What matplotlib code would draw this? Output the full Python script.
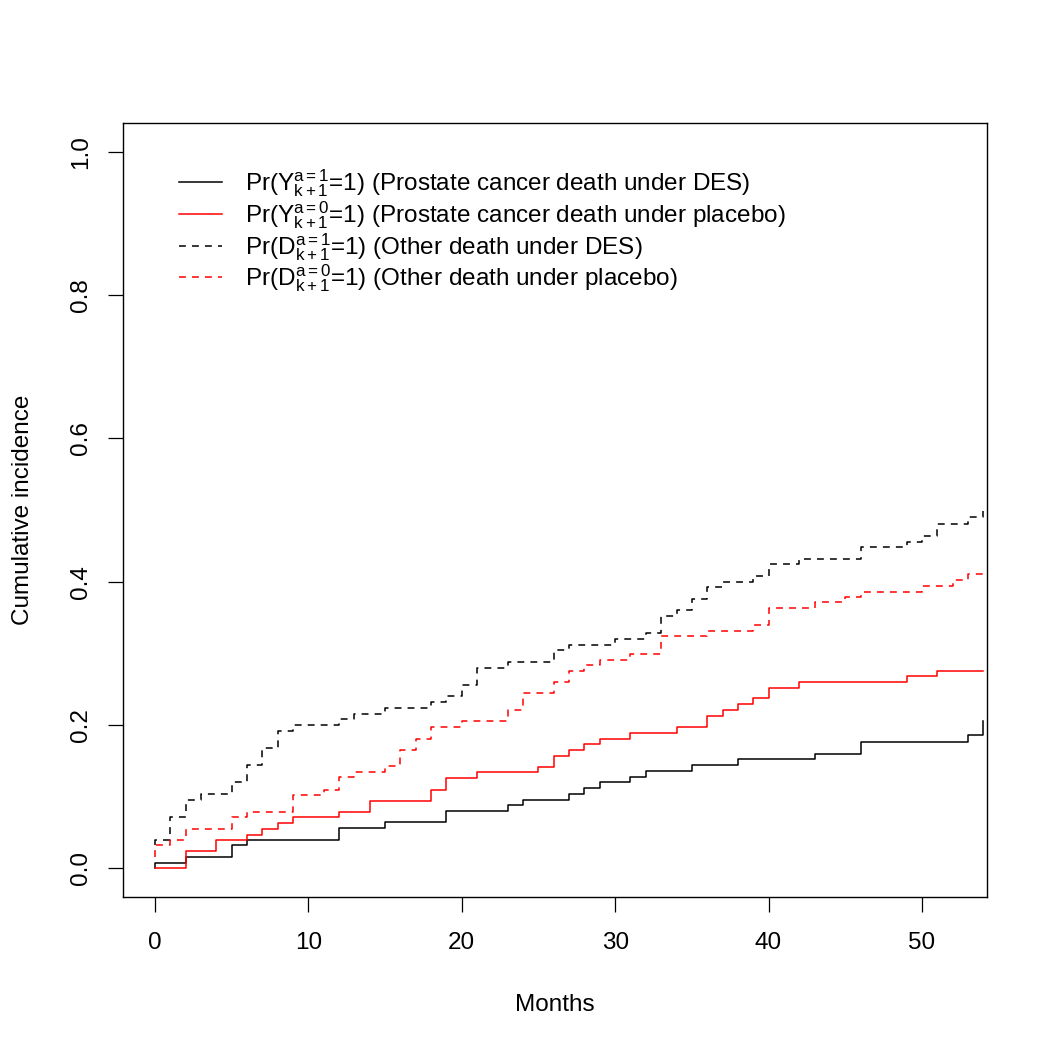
#!/usr/bin/env python3
"""
Cumulative incidence step curves: prostate cancer death vs other death,
DES vs placebo (R base-graphics look).
"""

import matplotlib
matplotlib.use("Agg")
import matplotlib.pyplot as plt

plt.rcParams["font.family"] = ["Liberation Sans", "DejaVu Sans"]
plt.rcParams["mathtext.fontset"] = "custom"
plt.rcParams["mathtext.rm"] = "Liberation Sans"
plt.rcParams["mathtext.it"] = "Liberation Sans"

# step data: month of each jump and the value after it
y_des_t = [0, 0, 2, 5, 6, 12, 15, 19, 23, 24, 27, 28, 29, 31, 32, 35, 38, 43, 46, 53, 54]
y_des_v = [0.0, 0.008, 0.016, 0.032, 0.040, 0.056, 0.064, 0.080, 0.088, 0.096, 0.104,
           0.112, 0.120, 0.128, 0.136, 0.144, 0.152, 0.160, 0.176, 0.186, 0.206]

y_plc_t = [0, 2, 4, 6, 7, 8, 9, 12, 14, 18, 19, 21, 25, 26, 27, 28, 29, 31, 34, 36,
           37, 38, 39, 40, 42, 49, 51, 54]
y_plc_v = [0.0, 0.024, 0.039, 0.047, 0.055, 0.063, 0.071, 0.079, 0.0945, 0.110, 0.126,
           0.134, 0.142, 0.157, 0.165, 0.173, 0.181, 0.189, 0.197, 0.213, 0.221, 0.229,
           0.237, 0.252, 0.260, 0.268, 0.276, 0.276]

d_des_t = [0, 0, 1, 2, 3, 5, 6, 7, 8, 9, 12, 13, 15, 18, 19, 20, 21, 23, 26, 27, 30,
           32, 33, 34, 35, 36, 37, 39, 40, 42, 46, 49, 50, 51, 53, 54]
d_des_v = [0.032, 0.039, 0.072, 0.096, 0.104, 0.121, 0.144, 0.168, 0.192, 0.200, 0.208,
           0.216, 0.224, 0.232, 0.240, 0.256, 0.280, 0.288, 0.304, 0.312, 0.320, 0.328,
           0.352, 0.360, 0.376, 0.392, 0.400, 0.408, 0.424, 0.432, 0.448, 0.456, 0.464,
           0.480, 0.490, 0.499]

d_plc_t = [0, 0, 1, 2, 5, 6, 9, 11, 12, 13, 15, 16, 17, 18, 20, 23, 24, 26, 27, 28,
           29, 31, 33, 36, 39, 40, 43, 45, 46, 50, 52, 53, 54]
d_plc_v = [0.016, 0.032, 0.039, 0.055, 0.071, 0.079, 0.103, 0.110, 0.127, 0.135, 0.143,
           0.165, 0.181, 0.197, 0.205, 0.221, 0.245, 0.260, 0.276, 0.284, 0.291, 0.299,
           0.324, 0.331, 0.339, 0.363, 0.371, 0.378, 0.386, 0.394, 0.402, 0.411, 0.417]

labels = [
    r"Pr($\mathregular{Y^{a=1}_{k+1}}$=1) (Prostate cancer death under DES)",
    r"Pr($\mathregular{Y^{a=0}_{k+1}}$=1) (Prostate cancer death under placebo)",
    r"Pr($\mathregular{D^{a=1}_{k+1}}$=1) (Other death under DES)",
    r"Pr($\mathregular{D^{a=0}_{k+1}}$=1) (Other death under placebo)",
]

x_ticks = [0, 10, 20, 30, 40, 50]
y_ticks = [0.0, 0.2, 0.4, 0.6, 0.8, 1.0]

dash = (0, (4.5, 4))
fs = 17.5

fig = plt.figure(figsize=(10.5, 10.5), dpi=100)
ax = fig.add_axes([123 / 1050, 1 - 897 / 1050, (987 - 123) / 1050, (897 - 123) / 1050])

ax.step(y_des_t, y_des_v, where="post", color="black", lw=1.1, label=labels[0])
ax.step(y_plc_t, y_plc_v, where="post", color="red", lw=1.1, label=labels[1])
ax.step(d_des_t, d_des_v, where="post", color="black", lw=1.1, ls=dash, label=labels[2])
ax.step(d_plc_t, d_plc_v, where="post", color="red", lw=1.1, ls=dash, label=labels[3])

ax.set_xlim(-2.08, 54.24)
ax.set_ylim(-0.04, 1.04)

ax.set_xticks(x_ticks)
ax.set_yticks(y_ticks)
ax.set_xticklabels([str(t) for t in x_ticks])
ax.set_yticklabels(["%.1f" % v for v in y_ticks], rotation=90, va="center")
ax.tick_params(axis="both", length=11, width=0.9, labelsize=fs, pad=14)
ax.tick_params(axis="y", pad=11)

for s in ax.spines.values():
    s.set_linewidth(1.0)
    s.set_color("black")

ax.set_xlabel("Months", fontsize=fs, labelpad=29)
ax.set_ylabel("Cumulative incidence", fontsize=fs, labelpad=26)

ax.legend(loc="upper left", bbox_to_anchor=(0.053, 0.955), frameon=False,
          fontsize=fs, handlelength=1.8, handletextpad=0.92, labelspacing=0.0,
          borderaxespad=0)

fig.savefig("out.png", dpi=100)
